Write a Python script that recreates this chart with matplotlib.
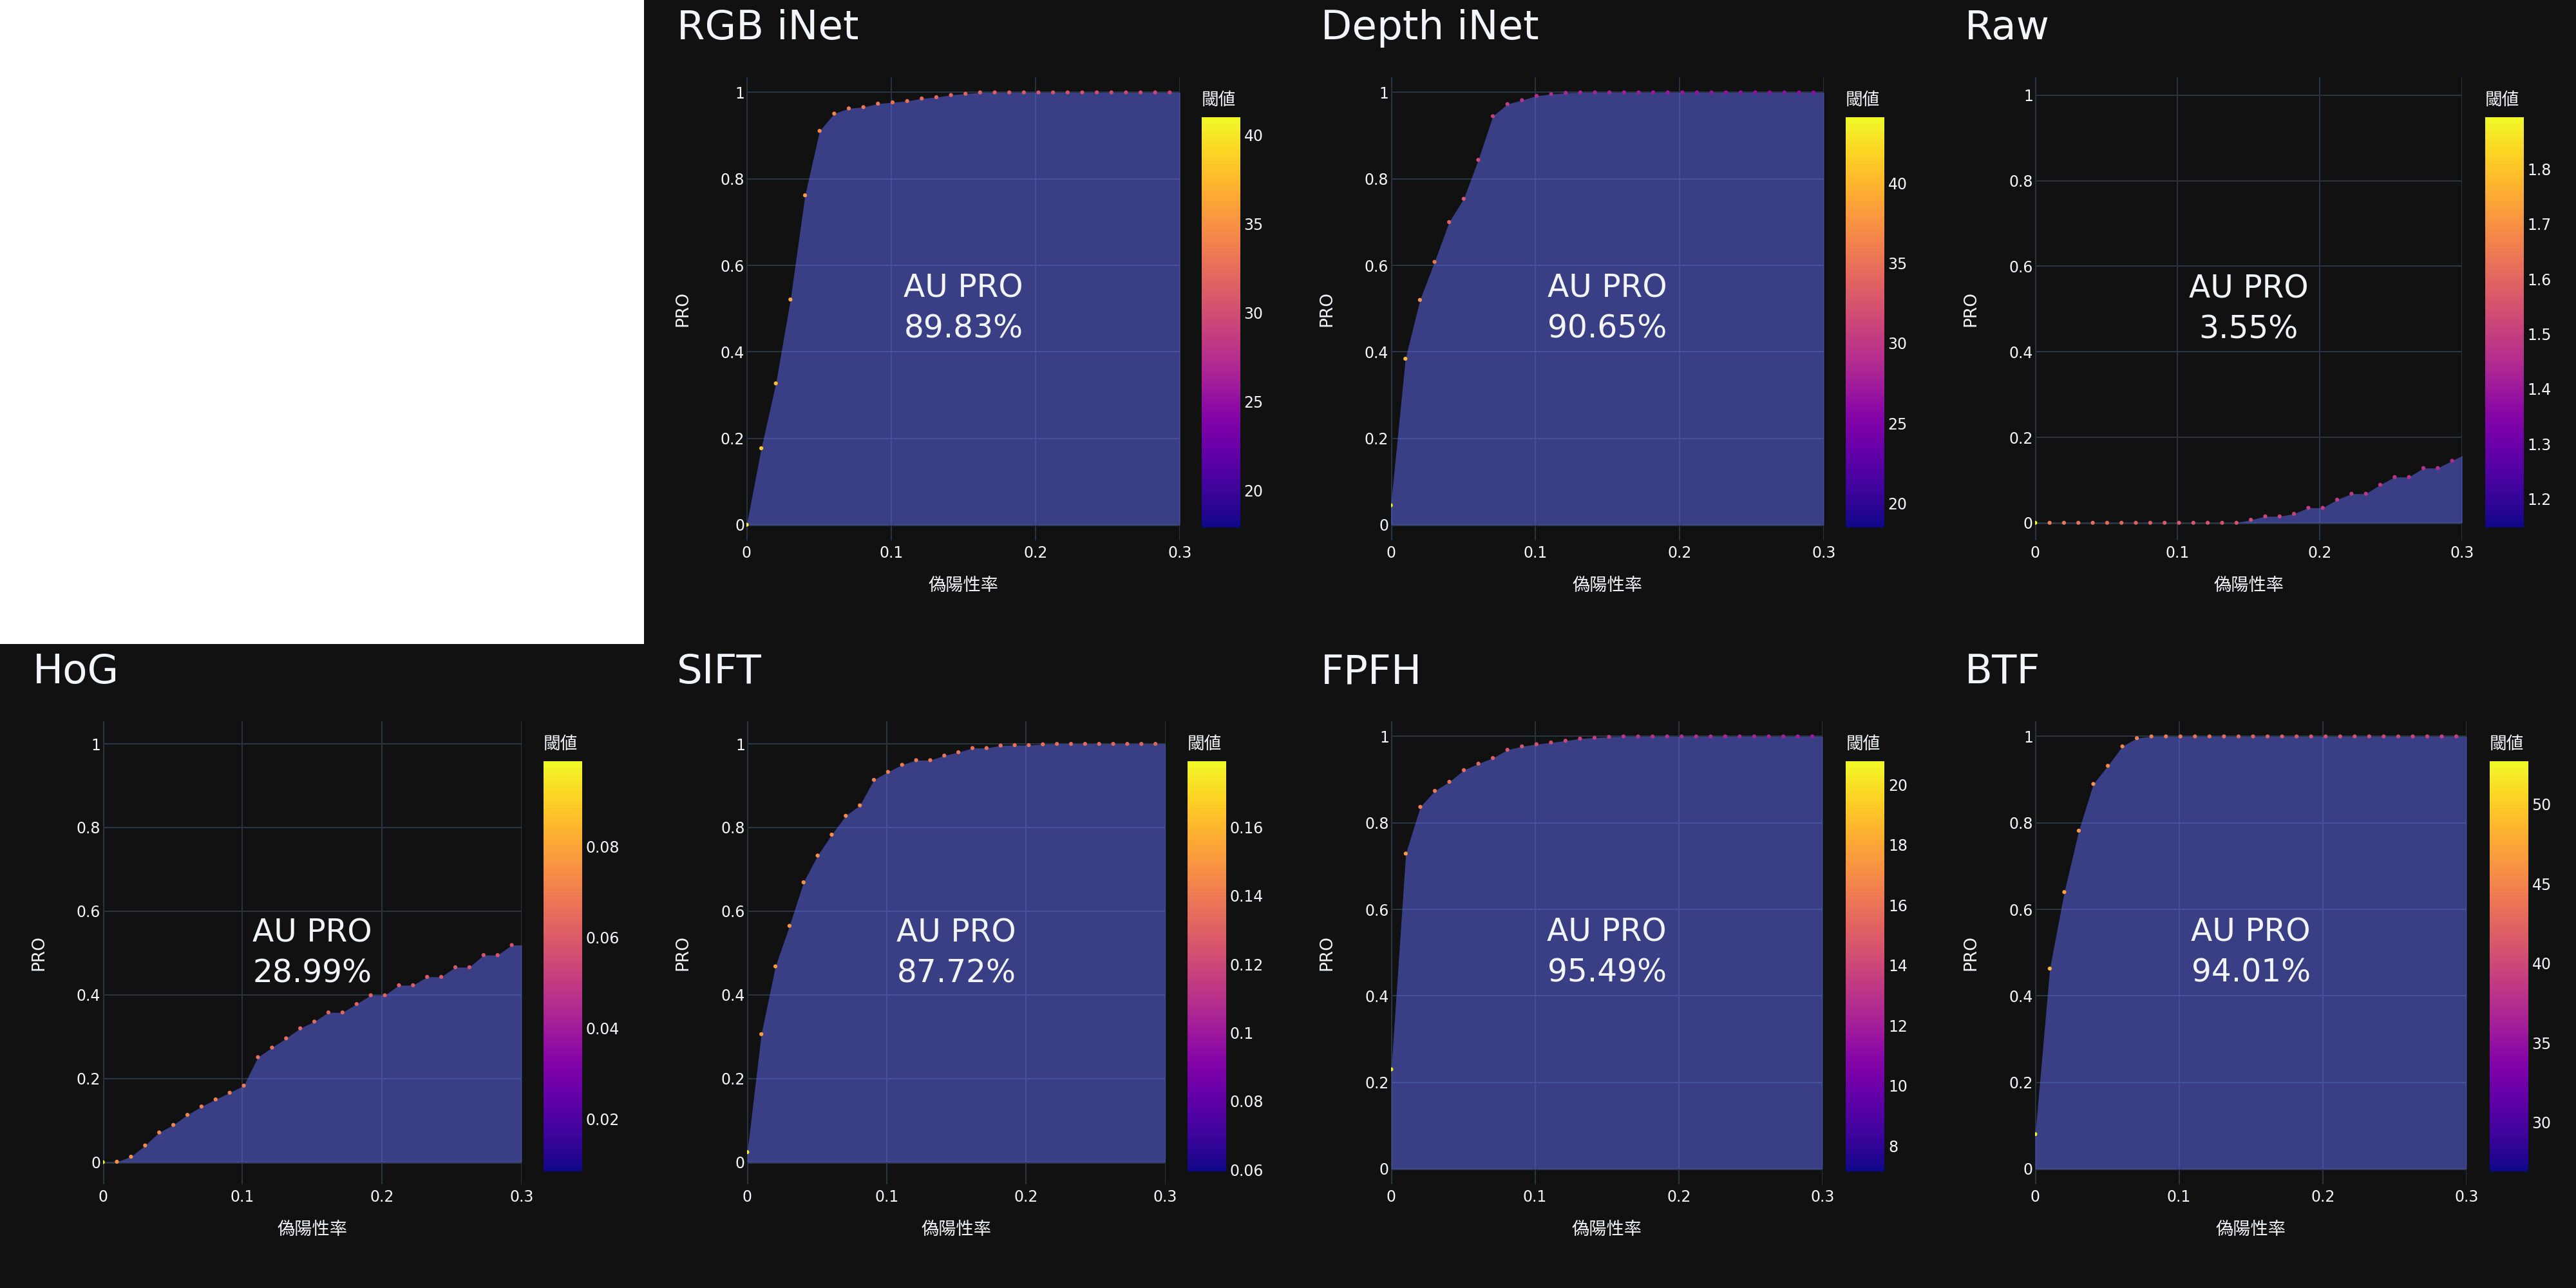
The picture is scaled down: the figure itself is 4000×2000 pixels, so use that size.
import matplotlib
matplotlib.use('Agg')
import matplotlib.pyplot as plt
import matplotlib as mpl
from matplotlib.patches import Rectangle

plt.rcParams['font.family'] = ['DejaVu Sans', 'Noto Sans CJK JP']

BG = '#111111'
FG = '#f2f5fa'
GRID = '#283442'
FILL = '#636efa'

# ---------------- data ----------------
fpr = [0.0, 0.0101, 0.0202, 0.0303, 0.0404, 0.0505, 0.0606, 0.0707, 0.0808, 0.0909,
       0.1010, 0.1111, 0.1212, 0.1313, 0.1414, 0.1515, 0.1616, 0.1717, 0.1818, 0.1919,
       0.2020, 0.2121, 0.2222, 0.2323, 0.2424, 0.2525, 0.2626, 0.2727, 0.2828, 0.2929]
fpr_end = 0.3

titles = ['RGB iNet', 'Depth iNet', 'Raw', 'HoG', 'SIFT', 'FPFH', 'BTF']
au_pro = ['89.83%', '90.65%', '3.55%', '28.99%', '87.72%', '95.49%', '94.01%']
x_label = '偽陽性率'
y_label = 'PRO'
cb_title = '閾値'
x_ticks = [0, 0.1, 0.2, 0.3]
y_ticks = [0, 0.2, 0.4, 0.6, 0.8, 1]

rgb_pro = [0.0, 0.177, 0.327, 0.521, 0.762, 0.911, 0.951, 0.963, 0.966, 0.974,
           0.977, 0.980, 0.986, 0.989, 0.994, 0.997, 1.0, 1.0, 1.0, 1.0,
           1.0, 1.0, 1.0, 1.0, 1.0, 1.0, 1.0, 1.0, 1.0, 1.0]
rgb_end = 1.0
rgb_thr = [41.0, 38.5, 37.5, 36.5, 35.5, 34.5, 34.0, 33.5, 33.2, 33.0,
           32.8, 32.6, 32.4, 32.2, 32.0, 31.8, 31.6, 31.4, 31.2, 31.0,
           30.8, 30.6, 30.4, 30.2, 30.0, 29.8, 29.6, 29.4, 29.2, 29.0]
rgb_crange = [17.9, 41.0]
rgb_cticks = [20, 25, 30, 35, 40]

depth_pro = [0.045, 0.384, 0.520, 0.608, 0.700, 0.754, 0.844, 0.945, 0.973, 0.982,
             0.992, 0.996, 0.999, 1.0, 1.0, 1.0, 1.0, 1.0, 1.0, 1.0,
             1.0, 1.0, 1.0, 1.0, 1.0, 1.0, 1.0, 1.0, 1.0, 1.0]
depth_end = 1.0
depth_thr = [44.1, 40.0, 37.5, 35.5, 34.0, 33.0, 31.5, 30.5, 30.0, 29.5,
             29.0, 28.8, 28.5, 28.2, 28.0, 27.8, 27.6, 27.4, 27.2, 27.0,
             26.8, 26.7, 26.6, 26.5, 26.4, 26.3, 26.2, 26.1, 26.0, 25.9]
depth_crange = [18.5, 44.1]
depth_cticks = [20, 25, 30, 35, 40]

raw_pro = [0.0, 0.0, 0.0, 0.0, 0.0, 0.0, 0.0, 0.0, 0.0, 0.0,
           0.0, 0.0, 0.0, 0.0, 0.0, 0.007, 0.015, 0.015, 0.021, 0.035,
           0.035, 0.054, 0.068, 0.068, 0.089, 0.107, 0.107, 0.128, 0.128, 0.145]
raw_end = 0.157
raw_thr = [1.894, 1.66, 1.64, 1.63, 1.62, 1.61, 1.60, 1.59, 1.58, 1.575,
           1.57, 1.565, 1.56, 1.555, 1.55, 1.53, 1.52, 1.515, 1.51, 1.50,
           1.495, 1.49, 1.485, 1.48, 1.475, 1.47, 1.465, 1.46, 1.455, 1.45]
raw_crange = [1.148, 1.894]
raw_cticks = [1.2, 1.3, 1.4, 1.5, 1.6, 1.7, 1.8]

hog_pro = [0.0, 0.001, 0.013, 0.040, 0.071, 0.089, 0.113, 0.133, 0.150, 0.166,
           0.183, 0.251, 0.274, 0.296, 0.320, 0.336, 0.358, 0.358, 0.378, 0.399,
           0.399, 0.423, 0.423, 0.443, 0.443, 0.466, 0.466, 0.495, 0.495, 0.519]
hog_end = 0.519
hog_thr = [0.0988, 0.076, 0.075, 0.074, 0.073, 0.072, 0.0715, 0.071, 0.0705, 0.070,
           0.069, 0.066, 0.0655, 0.065, 0.0645, 0.064, 0.0635, 0.063, 0.0625, 0.062,
           0.0615, 0.061, 0.0605, 0.060, 0.0595, 0.059, 0.0585, 0.058, 0.0575, 0.057]
hog_crange = [0.0085, 0.0988]
hog_cticks = [0.02, 0.04, 0.06, 0.08]

sift_pro = [0.024, 0.306, 0.468, 0.565, 0.669, 0.733, 0.783, 0.828, 0.853, 0.914,
            0.933, 0.950, 0.961, 0.961, 0.972, 0.980, 0.990, 0.990, 0.996, 0.997,
            0.997, 0.999, 1.0, 1.0, 1.0, 1.0, 1.0, 1.0, 1.0, 1.0]
sift_end = 1.0
sift_thr = [0.179, 0.152, 0.151, 0.150, 0.149, 0.148, 0.147, 0.146, 0.145, 0.142,
            0.141, 0.140, 0.139, 0.139, 0.138, 0.138, 0.137, 0.137, 0.136, 0.136,
            0.135, 0.135, 0.134, 0.134, 0.133, 0.133, 0.132, 0.132, 0.131, 0.131]
sift_crange = [0.0595, 0.1792]
sift_cticks = [0.06, 0.08, 0.1, 0.12, 0.14, 0.16]

fpfh_pro = [0.230, 0.729, 0.837, 0.874, 0.895, 0.922, 0.937, 0.950, 0.969, 0.977,
            0.982, 0.986, 0.990, 0.995, 0.997, 0.999, 1.0, 1.0, 1.0, 1.0,
            1.0, 1.0, 1.0, 1.0, 1.0, 1.0, 1.0, 1.0, 1.0, 1.0]
fpfh_end = 1.0
fpfh_thr = [20.78, 17.5, 16.6, 16.3, 16.0, 15.7, 15.4, 15.2, 14.8, 14.6,
            14.4, 14.2, 14.0, 13.7, 13.5, 13.3, 13.1, 13.0, 12.9, 12.8,
            12.7, 12.6, 12.5, 12.4, 12.3, 12.2, 12.1, 12.0, 11.9, 11.8]
fpfh_crange = [7.15, 20.78]
fpfh_cticks = [8, 10, 12, 14, 16, 18, 20]

btf_pro = [0.080, 0.463, 0.640, 0.782, 0.890, 0.932, 0.977, 0.996, 1.0, 1.0,
           1.0, 1.0, 1.0, 1.0, 1.0, 1.0, 1.0, 1.0, 1.0, 1.0,
           1.0, 1.0, 1.0, 1.0, 1.0, 1.0, 1.0, 1.0, 1.0, 1.0]
btf_end = 1.0
btf_thr = [52.7, 48.5, 47.2, 46.5, 46.0, 45.5, 45.0, 44.6, 44.3, 44.0,
           43.7, 43.4, 43.1, 42.8, 42.5, 42.2, 41.9, 41.6, 41.3, 41.0,
           40.8, 40.6, 40.4, 40.2, 40.0, 39.8, 39.6, 39.4, 39.2, 39.0]
btf_crange = [26.9, 52.7]
btf_cticks = [30, 35, 40, 45, 50]

series = [
    (rgb_pro, rgb_end, rgb_thr, rgb_crange, rgb_cticks),
    (depth_pro, depth_end, depth_thr, depth_crange, depth_cticks),
    (raw_pro, raw_end, raw_thr, raw_crange, raw_cticks),
    (hog_pro, hog_end, hog_thr, hog_crange, hog_cticks),
    (sift_pro, sift_end, sift_thr, sift_crange, sift_cticks),
    (fpfh_pro, fpfh_end, fpfh_thr, fpfh_crange, fpfh_cticks),
    (btf_pro, btf_end, btf_thr, btf_crange, btf_cticks),
]

# ---------------- layout (pixels on 4000x2000 canvas) ----------------
W, H = 4000, 2000
# (column, row, plot_x0, plot_x1, ylim, colorbar_x0)
layout = [
    (1, 0, 1159.4, 1832.3, (-0.036, 1.035), 1866),
    (2, 0, 2159.6, 2832.0, (-0.036, 1.035), 2866),
    (3, 0, 3160.3, 3823.3, (-0.041, 1.042), 3859),
    (0, 1, 159.6, 810.0, (-0.053, 1.054), 843.6),
    (1, 1, 1160.3, 1809.5, (-0.053, 1.054), 1844),
    (2, 1, 2160.3, 2830.0, (-0.036, 1.035), 2866.4),
    (3, 1, 3160.3, 3830.0, (-0.036, 1.035), 3866),
]
PLOT_TOP, PLOT_BOT = 120, 839
CB_TOP, CB_BOT, CB_W = 182, 819, 60

fig = plt.figure(figsize=(20, 10), dpi=200, facecolor=BG)
fig.add_artist(Rectangle((0, 0.5), 0.25, 0.5, transform=fig.transFigure,
                         facecolor='white', edgecolor='none', zorder=0))


def px_axes(x0, y0, x1, y1):
    return fig.add_axes([x0 / W, 1 - y1 / H, (x1 - x0) / W, (y1 - y0) / H])


def fmt(v):
    return '{:g}'.format(v)


TICK_FS = 8.5

for (col, row, px0, px1, ylim, cbx), title, au, (pro, end, thr, crange, cticks) in zip(
        layout, titles, au_pro, series):
    yoff = row * 1000
    ax = px_axes(px0, PLOT_TOP + yoff, px1, PLOT_BOT + yoff)
    ax.set_facecolor(BG)
    for s in ax.spines.values():
        s.set_visible(False)
    ax.set_xlim(0, 0.3)
    ax.set_ylim(*ylim)
    ax.set_xticks(x_ticks)
    ax.set_xticklabels([fmt(v) for v in x_ticks])
    ax.set_yticks(y_ticks)
    ax.set_yticklabels([fmt(v) for v in y_ticks])
    ax.tick_params(axis='both', length=0, labelsize=TICK_FS, colors=FG)
    ax.tick_params(axis='x', pad=3.0)
    ax.tick_params(axis='y', pad=1.2)
    ax.grid(True, color=GRID, lw=0.72, zorder=0)
    ax.set_axisbelow(True)
    ax.axhline(0, color=GRID, lw=1.1, zorder=1)
    ax.axvline(0, color=GRID, lw=1.4, zorder=1)

    xs = fpr + [fpr_end]
    ys = pro + [end]
    ax.fill_between(xs, ys, 0, color=FILL, alpha=0.5, lw=0, zorder=2)
    norm = mpl.colors.Normalize(vmin=crange[0], vmax=crange[1])
    ax.scatter(fpr, pro, c=thr, cmap='plasma', norm=norm, s=5.0, lw=0, zorder=3)

    ax.text(0.15, 0.5, 'AU PRO\n' + au, ha='center', va='center', fontsize=17.5,
            color=FG, linespacing=1.38, zorder=4)

    # colorbar
    cax = px_axes(cbx, CB_TOP + yoff, cbx + CB_W, CB_BOT + yoff)
    cb = fig.colorbar(mpl.cm.ScalarMappable(norm=norm, cmap='plasma'), cax=cax)
    cb.outline.set_visible(False)
    cb.set_ticks(cticks)
    cb.set_ticklabels([fmt(v) for v in cticks])
    cax.tick_params(length=0, labelsize=TICK_FS, colors=FG, pad=2)

    # texts
    cx0 = col * 1000
    fig.text((cx0 + 51) / W, 1 - (61 + yoff) / H, title, fontsize=22.6, color=FG,
             ha='left', va='baseline')
    fig.text((cx0 + 60) / W, 1 - ((PLOT_TOP + PLOT_BOT) / 2 + yoff) / H, y_label,
             fontsize=9.5, color=FG, rotation=90, ha='center', va='center')
    fig.text(((px0 + px1) / 2) / W, 1 - (PLOT_BOT + 71 + yoff) / H, x_label,
             fontsize=9.8, color=FG, ha='center', va='center')
    fig.text(cbx / W, 1 - (156 + yoff) / H, cb_title, fontsize=9.6, color=FG,
             ha='left', va='center')

fig.savefig('out.png', dpi=200, facecolor=BG)
